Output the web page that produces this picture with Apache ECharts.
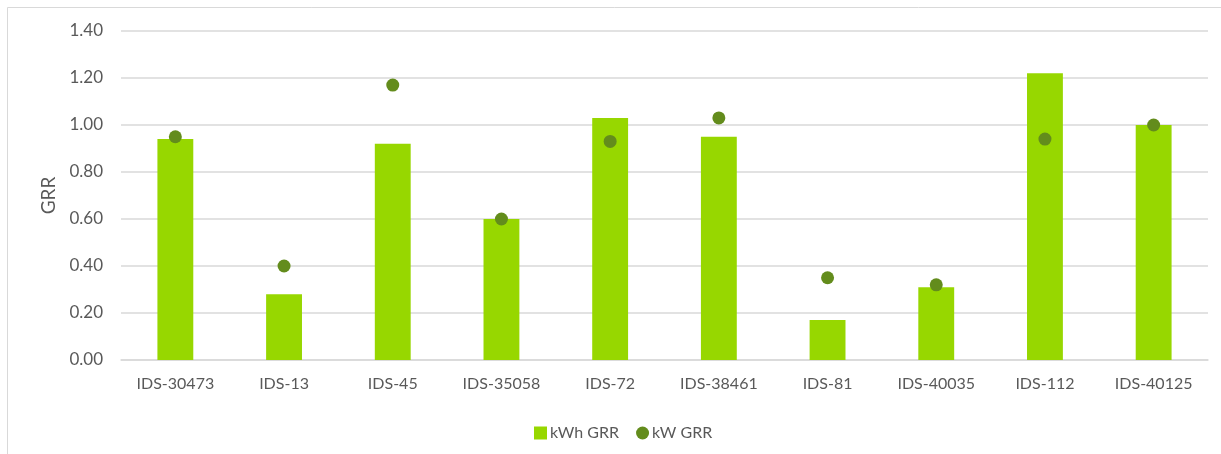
<!DOCTYPE html>
<html>
<head>
<meta charset="utf-8">
<script src="https://cdn.jsdelivr.net/npm/echarts@6/dist/echarts.min.js"></script>
<style>
html,body{margin:0;padding:0;background:#fff;}
#chart{width:1221px;height:454px;}
</style>
</head>
<body>
<div id="chart"></div>
<script>
const categories = ['IDS-30473','IDS-13','IDS-45','IDS-35058','IDS-72','IDS-38461','IDS-81','IDS-40035','IDS-112','IDS-40125'];
const kwhGRR = [0.94, 0.28, 0.92, 0.60, 1.03, 0.95, 0.17, 0.31, 1.22, 1.00];
const kwGRR = [0.95, 0.40, 1.17, 0.60, 0.93, 1.03, 0.35, 0.32, 0.94, 1.00];
const yTicks = [0, 0.2, 0.4, 0.6, 0.8, 1.0, 1.2, 1.4];

const font = 'Lato, "Open Sans", sans-serif';
const txt = '#595959';
const chart = echarts.init(document.getElementById('chart'), null, {renderer:'canvas'});
chart.setOption({
  backgroundColor:'#fff',
  animation:false,
  graphic:[{type:'rect', shape:{x:7.5,y:7.5,width:1300,height:500}, style:{fill:null, stroke:'#D9D9D9', lineWidth:1}, silent:true}],
  grid:{left:121, right:13, top:31, bottom:94, containLabel:false},
  legend:{
    left:529, top:420, itemWidth:13, itemHeight:13, itemGap:17,
    textStyle:{color:txt, fontFamily:font, fontSize:16, padding:[0,0,0,-2]},
    data:[{name:'kWh GRR', icon:'rect'},{name:'kW GRR', icon:'circle'}]
  },
  xAxis:{
    type:'category', data:categories,
    axisLine:{lineStyle:{color:'#D9D9D9', width:1.5}},
    axisTick:{show:false},
    axisLabel:{color:txt, fontFamily:font, fontSize:16, margin:16}
  },
  yAxis:{
    type:'value', min:yTicks[0], max:yTicks[yTicks.length-1], interval:0.2,
    name:'GRR', nameLocation:'middle', nameGap:63, nameRotate:90,
    nameTextStyle:{color:txt, fontFamily:font, fontSize:19},
    axisLine:{show:false}, axisTick:{show:false},
    axisLabel:{color:txt, fontFamily:font, fontSize:17, margin:18, formatter:v=>v.toFixed(2)},
    splitLine:{lineStyle:{color:'#D9D9D9', width:1.5}}
  },
  series:[
    {name:'kWh GRR', type:'bar', data:kwhGRR, barWidth:'33%', itemStyle:{color:'#97D700'}},
    {name:'kW GRR', type:'scatter', data:kwGRR, symbol:'circle', symbolSize:13, itemStyle:{color:'#638C1C', opacity:1}}
  ]
});
</script>
</body>
</html>
